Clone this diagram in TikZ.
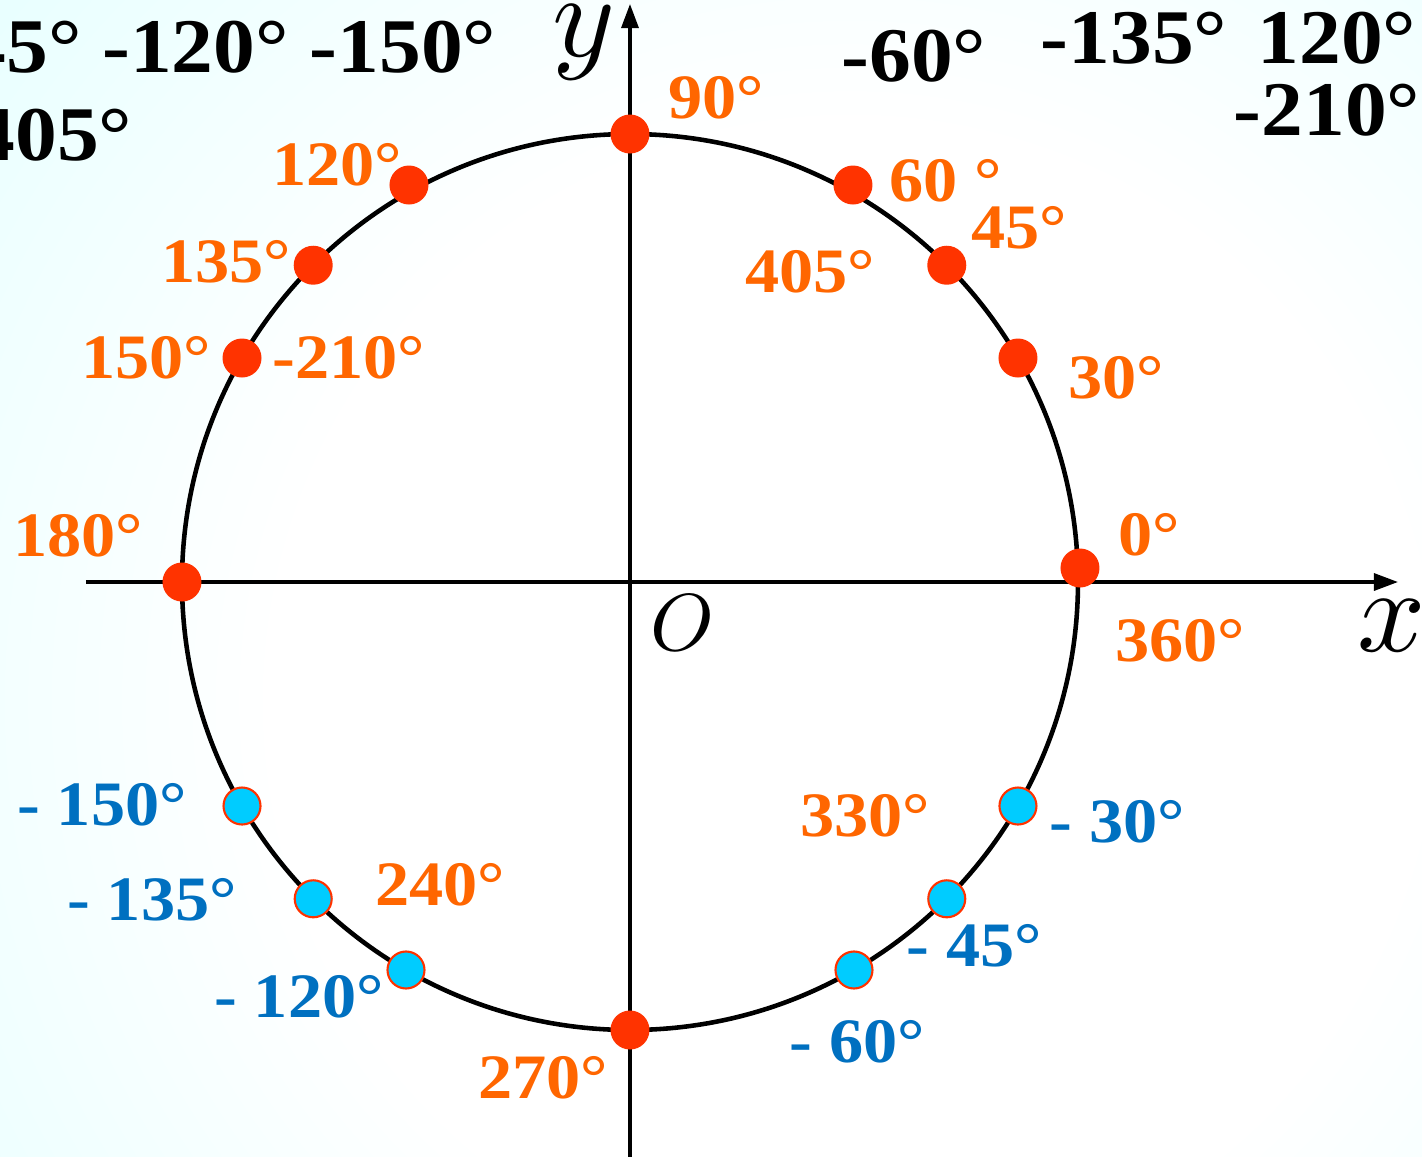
\documentclass[tikz,border=0pt]{standalone}
\usepackage{fontspec}
\setmainfont{Liberation Serif}[FakeStretch=1.08]
\usetikzlibrary{arrows.meta}
\definecolor{bgcyan}{HTML}{D4FFFF}
\definecolor{dotred}{HTML}{FF3300}
\definecolor{dotcyan}{HTML}{00CCFF}
\definecolor{degorange}{HTML}{FF6600}
\definecolor{degblue}{HTML}{0070C0}
\pgfdeclareradialshading{bgshade}{\pgfpoint{0bp}{0bp}}{color(0bp)=(white); color(8bp)=(white); color(22bp)=(bgcyan); color(50bp)=(bgcyan)}

\begin{document}
\begin{tikzpicture}[
    reddot/.style={circle, fill=dotred, minimum size=0.39cm, inner sep=0pt},
    bluedot/.style={circle, fill=dotcyan, draw=dotred, line width=0.6pt, minimum size=0.37cm, inner sep=0pt},
    poslabel/.style={text=degorange, inner sep=0pt, font=\fontsize{18}{20}\selectfont\bfseries},
    neglabel/.style={text=degblue, inner sep=0pt, font=\fontsize{18}{20}\selectfont\bfseries},
    toplabel/.style={text=black, inner sep=0pt, font=\fontsize{22}{24}\selectfont\bfseries},
    axis/.style={line width=0.9pt, -{Triangle[length=0.24cm, width=0.17cm]}}]
    \useasboundingbox (-6.30,-5.74) rectangle (7.92,5.82);
    \begin{scope}
        \clip (-6.30,-5.74) rectangle (7.92,5.82);
        \shade[shading=bgshade] (2.2,-1.2) circle (18);
    \end{scope}

    % axes
    \coordinate (xl) at (-5.44,0);
    \coordinate (xr) at (7.68,0);
    \coordinate (yb) at (0,-5.80);
    \coordinate (yt) at (0,5.78);
    \draw[axis] (xl) -- (xr);
    \draw[axis] (yb) -- (yt);
    \node[scale=3.4, inner sep=0pt] (xlab) at (7.62,-0.44) {$x$};
    \node[scale=3.4, inner sep=0pt] (ylab) at (-0.46,5.40) {$y$};
    \node[scale=2.3, inner sep=0pt] (orig) at (0.52,-0.41) {$O$};

    \draw[line width=1.3pt] (0,0) circle (4.48);

    % points
    \foreach \a in {30,45,90,135,150,180,270}
        \node[reddot] (p\a) at (\a:4.48) {};
    \node[reddot] (p60)  at (2.23,3.97)  {};
    \node[reddot] (p120) at (-2.21,3.97) {};
    \node[reddot] (p0)   at (4.50,0.14)  {};
    \foreach \a in {30,45,60,120,135,150}
        \node[bluedot] (m\a) at (-\a:4.48) {};

    % labels
    \node[poslabel] (l90)  at (0.86,4.84)   {90°};
    \node[poslabel] (l120) at (-2.93,4.17)  {120°};
    \node[poslabel] (l135) at (-4.04,3.20)  {135°};
    \node[poslabel] (l150) at (-4.84,2.24)  {150°};
    \node[poslabel] (l210) at (-2.81,2.24)  {-210°};
    \node[poslabel] (l60)  at (3.16,4.01)   {60 °};
    \node[poslabel] (l45)  at (3.89,3.54)   {45°};
    \node[poslabel] (l405) at (1.80,3.10)   {405°};
    \node[poslabel] (l30)  at (4.86,2.04)   {30°};
    \node[poslabel] (l180) at (-5.52,0.46)  {180°};
    \node[poslabel] (l0)   at (5.19,0.47)   {0°};
    \node[poslabel] (l360) at (5.50,-0.59)  {360°};
    \node[poslabel] (l330) at (2.35,-2.34)  {330°};
    \node[poslabel] (l240) at (-1.90,-3.03) {240°};
    \node[poslabel] (l270) at (-0.87,-4.96) {270°};

    \node[neglabel] (n150) at (-5.28,-2.23) {- 150°};
    \node[neglabel] (n135) at (-4.78,-3.18) {- 135°};
    \node[neglabel] (n120) at (-3.31,-4.15) {- 120°};
    \node[neglabel] (n30)  at (4.87,-2.40)  {- 30°};
    \node[neglabel] (n45)  at (3.44,-3.64)  {- 45°};
    \node[neglabel] (n60)  at (2.27,-4.60)  {- 60°};

    \node[toplabel, anchor=east] (t1) at (-1.33,5.35) {45° -120° -150°};
    \node[toplabel, anchor=east] (t2) at (-4.97,4.47) {405°};
    \node[toplabel] (t3) at (2.84,5.26) {-60°};
    \node[toplabel] (t4) at (5.04,5.44) {-135°};
    \node[toplabel] (t5) at (7.07,5.44) {120°};
    \node[toplabel] (t6) at (6.97,4.72) {-210°};
\end{tikzpicture}
\end{document}
